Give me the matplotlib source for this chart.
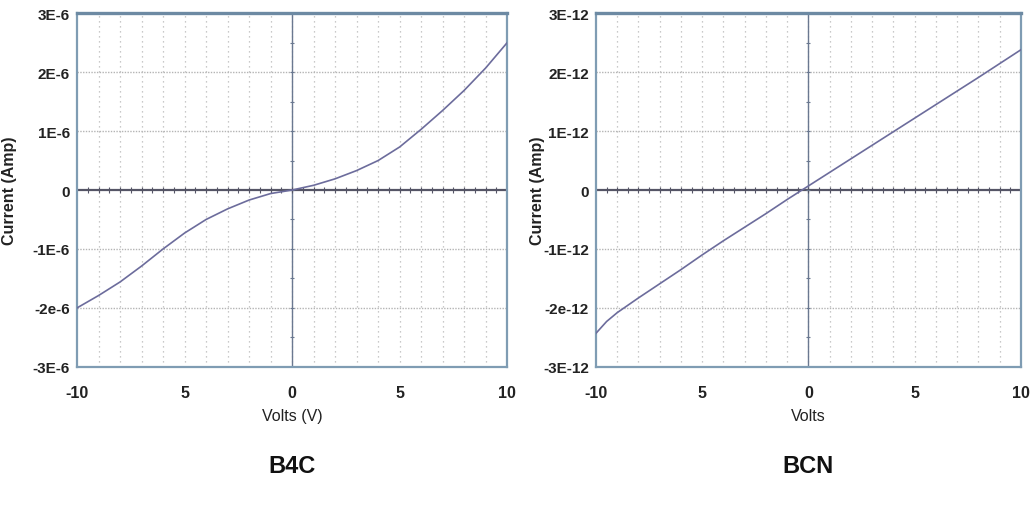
"""
I-V curves for B4C and BCN films, two panels side by side.
"""

import numpy as np
import matplotlib.pyplot as plt
from matplotlib.ticker import FixedLocator, FixedFormatter

plt.rcParams['font.family'] = ['Liberation Sans', 'DejaVu Sans']

# B4C: current (in 1E-6 A) at each volt
b4c_volts = [-10, -9, -8, -7, -6, -5, -4, -3, -2, -1, 0,
             1, 2, 3, 4, 5, 6, 7, 8, 9, 10]
b4c_current = [-2.00, -1.79, -1.56, -1.29, -1.00, -0.73, -0.50, -0.32, -0.17, -0.06, 0.0,
               0.08, 0.19, 0.33, 0.50, 0.73, 1.03, 1.35, 1.69, 2.07, 2.50]

# BCN: current (in 1E-12 A)
bcn_volts = [-10, -9.5, -9, -8, -7, -6, -5, -4, -3, -2, -1, 0,
             2, 4, 6, 8, 10]
bcn_current = [-2.43, -2.23, -2.08, -1.83, -1.59, -1.35, -1.10, -0.86, -0.63, -0.40, -0.16, 0.07,
               0.53, 0.99, 1.45, 1.91, 2.38]

x_ticks = [-10, -5, 0, 5, 10]
x_ticklabels = ['-10', '5', '0', '5', '10']
y_ticks = [-3, -2, -1, 0, 1, 2, 3]
b4c_yticklabels = ['-3E-6', '-2e-6', '-1E-6', '0', '1E-6', '2E-6', '3E-6']
bcn_yticklabels = ['-3E-12', '-2e-12', '-1E-12', '0', '1E-12', '2E-12', '3E-12']

FRAME = '#7f9cb3'
CURVE = '#6c6c9c'


def draw_panel(ax, volts, current, yticklabels, xlabel, title):
    ax.set_xlim(-10, 10)
    ax.set_ylim(-3, 3)

    # dotted grid: every volt, every unit of current
    for v in np.arange(-9, 10, 1):
        ax.axvline(v, color='#b8b8b8', linestyle=(0, (1, 3)), linewidth=0.9, zorder=1)
    for c in [-2, -1, 1, 2]:
        ax.axhline(c, color='#b4b4b4', linestyle=(0, (1, 1)), linewidth=1.0, zorder=1)

    # zero axes with their small tick marks
    ax.axhline(0, color='#555566', linewidth=1.6, zorder=2)
    ax.axvline(0, color='#6a7890', linewidth=1.0, zorder=2)
    ax.plot(np.arange(-9.5, 10, 0.5), np.zeros(39), '|', color='#555566',
            markersize=4, markeredgewidth=0.8, zorder=2)
    ax.plot(np.zeros(11), np.arange(-2.5, 3, 0.5), '_', color='#6a7890',
            markersize=3, markeredgewidth=0.8, zorder=2)

    ax.plot(volts, current, color=CURVE, linewidth=1.2, zorder=3)

    for side in ['left', 'right', 'bottom']:
        ax.spines[side].set_color(FRAME)
        ax.spines[side].set_linewidth(1.6)
    ax.spines['top'].set_color('#6d8aa3')
    ax.spines['top'].set_linewidth(2.4)

    ax.xaxis.set_major_locator(FixedLocator(x_ticks))
    ax.xaxis.set_major_formatter(FixedFormatter(x_ticklabels))
    ax.yaxis.set_major_locator(FixedLocator(y_ticks))
    ax.yaxis.set_major_formatter(FixedFormatter(yticklabels))
    ax.tick_params(axis='x', length=0, labelsize=11.5, pad=13)
    ax.tick_params(axis='y', length=0, labelsize=11, pad=5)
    for lbl in ax.get_xticklabels() + ax.get_yticklabels():
        lbl.set_fontweight('bold')
        lbl.set_color('#222222')

    ax.set_xlabel(xlabel, fontsize=11.5, color='#222222', labelpad=6)
    ax.set_ylabel('Current (Amp)', fontsize=11.5, fontweight='bold', color='#222222')
    ax.yaxis.set_label_coords(-0.14, 0.5)
    ax.text(0.5, -0.28, title, transform=ax.transAxes, ha='center', va='center',
            fontsize=17, fontweight='bold', color='#111111')


fig = plt.figure(figsize=(10.34, 5.06), dpi=100)
ax1 = fig.add_axes([0.0745, 0.273, 0.416, 0.699])
ax2 = fig.add_axes([0.5764, 0.273, 0.411, 0.699])

draw_panel(ax1, b4c_volts, b4c_current, b4c_yticklabels, 'Volts (V)', 'B4C')
draw_panel(ax2, bcn_volts, bcn_current, bcn_yticklabels, 'Volts', 'BCN')
ax2.yaxis.set_label_coords(-0.12, 0.5)

fig.savefig('out.png', dpi=100, facecolor='white')
